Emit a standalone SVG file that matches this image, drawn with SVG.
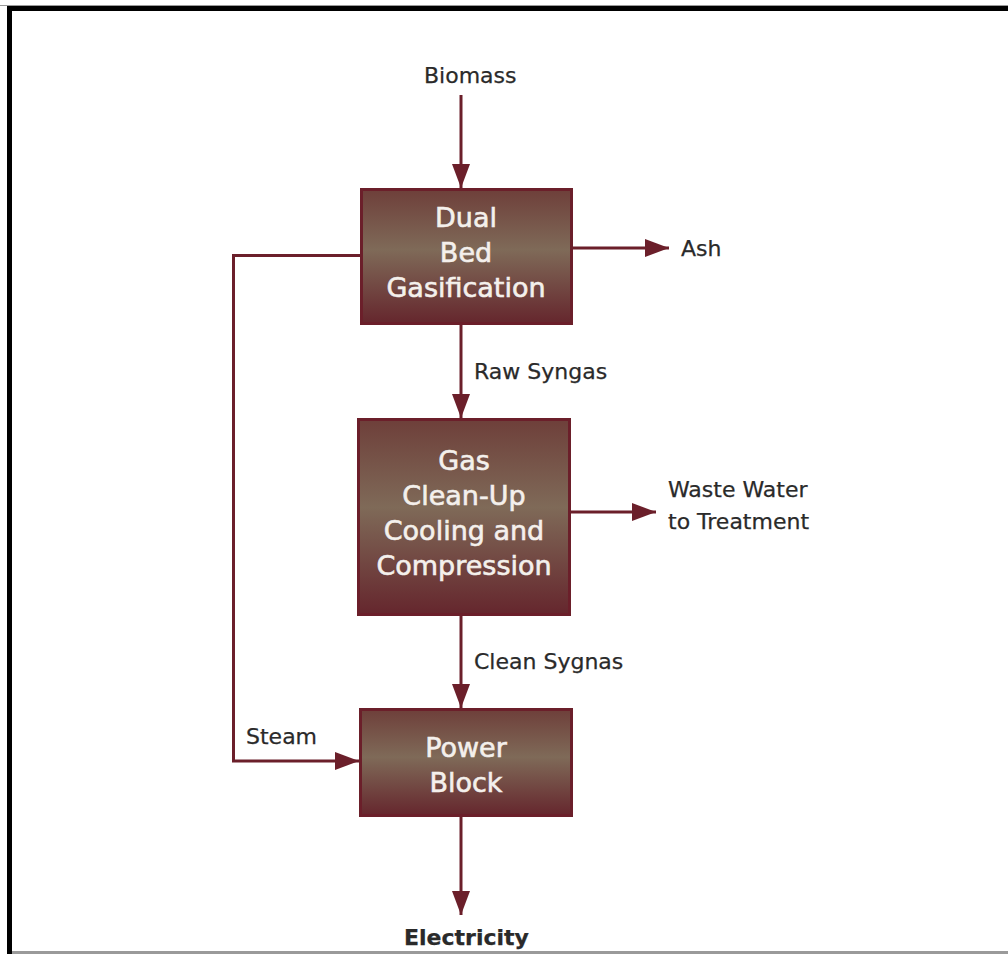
<svg xmlns="http://www.w3.org/2000/svg" width="1008" height="954" viewBox="0 0 1008 954">
<defs>
<linearGradient id="boxfill" x1="0" y1="0" x2="0" y2="1">
<stop offset="0" stop-color="#6e3f3a"/>
<stop offset="0.45" stop-color="#7f6a58"/>
<stop offset="1" stop-color="#65262d"/>
</linearGradient>
<marker id="ah" markerWidth="8" markerHeight="6" refX="8" refY="3" orient="auto" markerUnits="strokeWidth">
<path d="M0,0 L8,3 L0,6 Z" fill="#6b1f2a"/>
</marker>
</defs>
<style>
.box{fill:url(#boxfill);stroke:#6b1f2a;stroke-width:3}
.bt{font-family:"DejaVu Sans",sans-serif;font-size:27px;fill:#f4f0ec;stroke:#f4f0ec;stroke-width:0.6;text-anchor:middle}
.lb{font-family:"DejaVu Sans",sans-serif;font-size:22px;fill:#2a2a2a;stroke:#2a2a2a;stroke-width:0.25}
.cn{fill:none;stroke:#6b1f2a;stroke-width:3}
</style>
<rect x="0" y="0" width="1008" height="954" fill="#ffffff"/>
<g id="frame">
<line x1="0" y1="5.5" x2="1008" y2="5.5" stroke="#9a9a9a" stroke-width="1"/>
<rect x="7" y="6" width="1001" height="5" fill="#000"/>
<rect x="7" y="6" width="5" height="948" fill="#000"/>
<rect x="12" y="951" width="996" height="3" fill="#9a9a9a"/>
</g>
<g id="connectors">
<path class="cn" d="M461,95 V188" marker-end="url(#ah)"/>
<path class="cn" d="M571,248 H669" marker-end="url(#ah)"/>
<path class="cn" d="M461,323 V418" marker-end="url(#ah)"/>
<path class="cn" d="M569,512 H656" marker-end="url(#ah)"/>
<path class="cn" d="M461,614 V708" marker-end="url(#ah)"/>
<path class="cn" d="M461,815 V915" marker-end="url(#ah)"/>
<path class="cn" d="M361,255.5 H233.5 V761 H359" marker-end="url(#ah)"/>
</g>
<g id="gasification">
<rect class="box" x="361.5" y="189.5" width="210" height="134"/>
<text class="bt" x="466" y="227">Dual</text>
<text class="bt" x="466" y="262">Bed</text>
<text class="bt" x="466" y="297">Gasification</text>
</g>
<g id="cleanup">
<rect class="box" x="358.5" y="419.5" width="211" height="195"/>
<text class="bt" x="464" y="470">Gas</text>
<text class="bt" x="464" y="505">Clean-Up</text>
<text class="bt" x="464" y="540">Cooling and</text>
<text class="bt" x="464" y="575">Compression</text>
</g>
<g id="power">
<rect class="box" x="360.5" y="709.5" width="211" height="106"/>
<text class="bt" x="466" y="757">Power</text>
<text class="bt" x="466" y="792">Block</text>
</g>
<g id="labels">
<text class="lb" x="424" y="83">Biomass</text>
<text class="lb" x="681" y="256">Ash</text>
<text class="lb" x="474" y="379">Raw Syngas</text>
<text class="lb" x="668" y="497">Waste Water</text>
<text class="lb" x="668" y="529">to Treatment</text>
<text class="lb" x="474" y="669">Clean Sygnas</text>
<text class="lb" x="246" y="744">Steam</text>
<text class="lb" x="404" y="945" font-weight="bold" fill="#1a1a1a" stroke="none">Electricity</text>
</g>
</svg>
